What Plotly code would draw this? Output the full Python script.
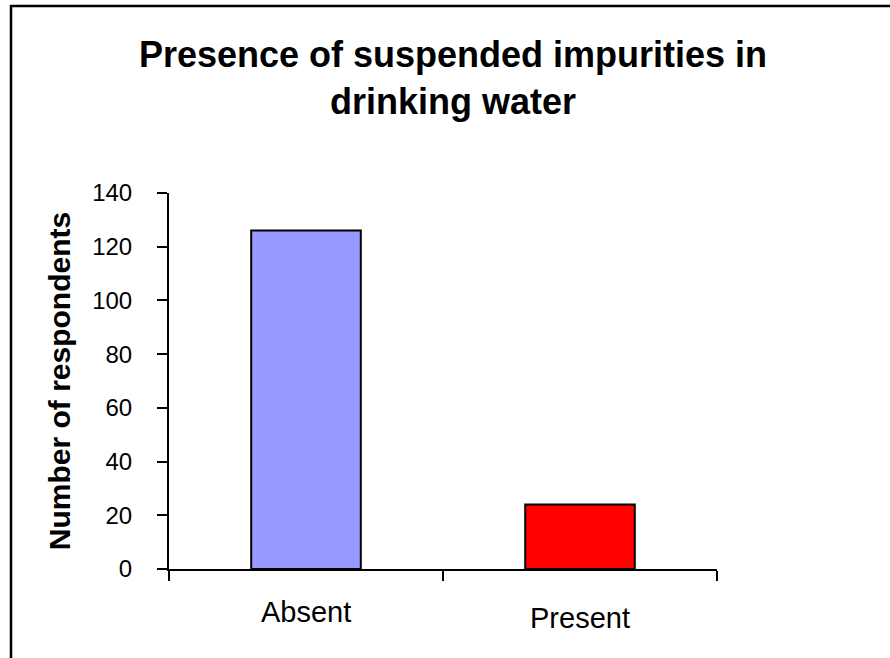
import plotly.graph_objects as go

categories = ["Absent", "Present"]
respondents = [126, 24]
bar_colors = ["#9999FF", "#FF0000"]
y_ticks = [0, 20, 40, 60, 80, 100, 120, 140]
label_shifts = [-25, -31]

FONT = "Liberation Sans, Arial, sans-serif"
W, H = 890, 658
L, R, T, B = 169, 173, 193, 89

fig = go.Figure()
fig.add_trace(go.Bar(
    x=categories, y=respondents, width=0.4,
    marker=dict(color=bar_colors, line=dict(color="black", width=2)),
    showlegend=False,
))

for cat, shift in zip(categories, label_shifts):
    fig.add_annotation(x=cat, xref="x", y=0, yref="paper", yanchor="top",
                       yshift=shift, text=cat, showarrow=False,
                       font=dict(family=FONT, size=29, color="black"))

pw = W - L - R
ph = H - T - B
fig.add_shape(type="rect", xref="paper", yref="paper",
              x0=(11 - L) / pw, x1=(900 - L) / pw,
              y0=(H - B - 670) / ph, y1=(H - B - 6) / ph,
              line=dict(color="black", width=2.5), fillcolor="rgba(0,0,0,0)",
              layer="below")

fig.update_layout(
    width=W, height=H,
    margin=dict(l=L, r=R, t=T, b=B, autoexpand=False),
    paper_bgcolor="white", plot_bgcolor="white",
    title=dict(text="Presence of suspended impurities in<br>drinking water",
               x=453 / W, xanchor="center", xref="container",
               y=1 - 67 / H, yanchor="top", yref="container",
               font=dict(family=FONT, size=36, color="black", weight="bold")),
    xaxis=dict(type="category", range=[-0.5, 1.5], showticklabels=False,
               ticks="outside", tickson="boundaries", ticklen=10, tickwidth=2,
               tickcolor="black", showline=True, linecolor="black", linewidth=2,
               showgrid=False, zeroline=False),
    yaxis=dict(range=[0, 140], tickvals=y_ticks, ticks="outside", ticklen=10,
               tickwidth=2, tickcolor="black", showline=True, linecolor="black",
               linewidth=2, showgrid=False, zeroline=False,
               ticklabelstandoff=20,
               tickfont=dict(family=FONT, size=24, color="black"),
               title=dict(text="Number of respondents", standoff=13,
                          font=dict(family=FONT, size=30, color="black", weight="bold"))),
    bargap=0.6,
)

fig.write_html("out.html", config={"displayModeBar": False},
               post_script="document.body.style.margin='0';document.body.style.overflow='hidden';")
